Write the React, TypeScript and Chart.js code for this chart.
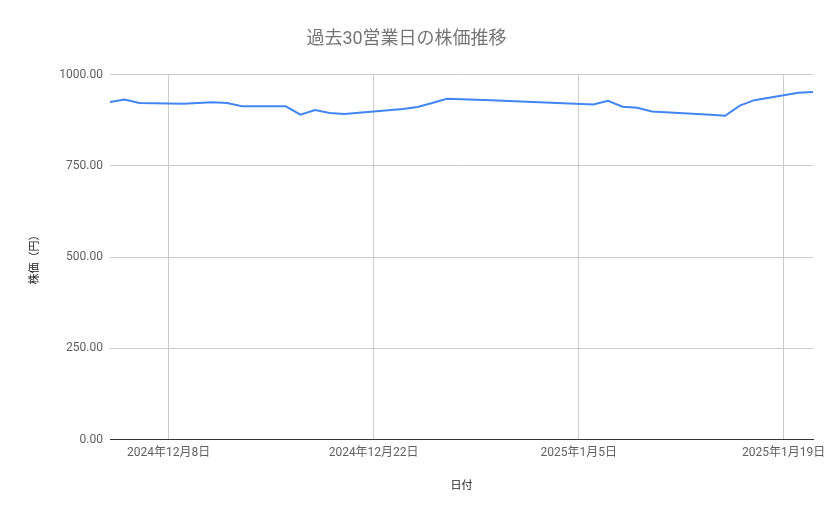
import { useEffect, useRef } from "react";
import Chart from "chart.js/auto";

// 営業日ごとの終値
const dates = [
  "2024-12-04", "2024-12-05", "2024-12-06", "2024-12-09", "2024-12-10",
  "2024-12-11", "2024-12-12", "2024-12-13", "2024-12-16", "2024-12-17",
  "2024-12-18", "2024-12-19", "2024-12-20", "2024-12-23", "2024-12-24",
  "2024-12-25", "2024-12-26", "2024-12-27", "2024-12-30", "2025-01-06",
  "2025-01-07", "2025-01-08", "2025-01-09", "2025-01-10", "2025-01-14",
  "2025-01-15", "2025-01-16", "2025-01-17", "2025-01-20", "2025-01-21",
];
const prices = [
  925, 932, 922, 920, 922,
  924, 922, 913, 913, 890,
  903, 895, 892, 902, 906,
  911, 922, 934, 930, 918,
  928, 912, 909, 899, 890,
  887, 915, 930, 950, 952,
];

const xStart = "2024-12-04";
const xEnd = "2025-01-21";
const xTickDates = ["2024-12-08", "2024-12-22", "2025-01-05", "2025-01-19"];
const xTickLabels = ["2024年12月8日", "2024年12月22日", "2025年1月5日", "2025年1月19日"];
const yTicks = [0, 250, 500, 750, 1000];
const yTickLabels = ["0.00", "250.00", "500.00", "750.00", "1000.00"];

const FONT = "Roboto, 'Noto Sans CJK JP', sans-serif";

function dayNum(d: string) {
  const [y, m, day] = d.split("-").map(Number);
  return Date.UTC(y, m - 1, day) / 86400000;
}

export default function App() {
  const ref = useRef<HTMLCanvasElement | null>(null);

  useEffect(() => {
    document.body.style.margin = "0";
    if (!ref.current) return;
    const xTicks = xTickDates.map(dayNum);
    const chart = new Chart(ref.current, {
      type: "line",
      data: {
        datasets: [
          {
            label: "株価",
            data: dates.map((d, i) => ({ x: dayNum(d), y: prices[i] })),
            borderColor: "#4285f4",
            borderWidth: 2,
            pointRadius: 0,
            tension: 0,
          },
        ],
      },
      options: {
        responsive: false,
        animation: false,
        layout: { padding: { left: 0, right: 26, top: 0, bottom: 0 } },
        plugins: {
          legend: { display: false },
          tooltip: { enabled: false },
          title: {
            display: true,
            text: "過去30営業日の株価推移",
            color: "#757575",
            font: { family: FONT, size: 18, weight: "normal" },
            padding: { top: 29, bottom: 24 },
          },
        },
        scales: {
          x: {
            type: "linear",
            min: dayNum(xStart),
            max: dayNum(xEnd),
            afterBuildTicks: (s: any) => {
              s.ticks = xTicks.map((v) => ({ value: v }));
            },
            afterFit: (s: any) => {
              s.height = 79.5;
            },
            ticks: {
              autoSkip: false,
              maxRotation: 0,
              padding: 6,
              color: "#5f5f5f",
              font: { family: FONT, size: 12 },
              callback: (v: any) => xTickLabels[xTicks.indexOf(Number(v))] ?? "",
            },
            grid: { color: "#cccccc", drawTicks: false },
            border: { display: true, color: "#333333", width: 1 },
            title: {
              display: true,
              text: "日付",
              color: "#222222",
              font: { family: FONT, size: 11 },
              padding: { top: 0, bottom: 26 },
            },
          },
          y: {
            type: "linear",
            min: 0,
            max: 1000,
            afterBuildTicks: (s: any) => {
              s.ticks = yTicks.map((v) => ({ value: v }));
            },
            afterFit: (s: any) => {
              s.width = 110;
            },
            ticks: {
              padding: 7,
              color: "#5f5f5f",
              font: { family: FONT, size: 12 },
              callback: (v: any) => yTickLabels[yTicks.indexOf(Number(v))] ?? "",
            },
            grid: {
              color: (c: any) => (c.tick && c.tick.value === 0 ? "#333333" : "#cccccc"),
              drawTicks: false,
            },
            border: { display: false },
            title: {
              display: true,
              text: "株価（円）",
              color: "#222222",
              font: { family: FONT, size: 11 },
              padding: { top: 29, bottom: 0 },
            },
          },
        },
      },
    });
    return () => chart.destroy();
  }, []);

  return (
    <div style={{ width: 839, height: 519 }}>
      <canvas ref={ref} width={839} height={519}></canvas>
    </div>
  );
}
